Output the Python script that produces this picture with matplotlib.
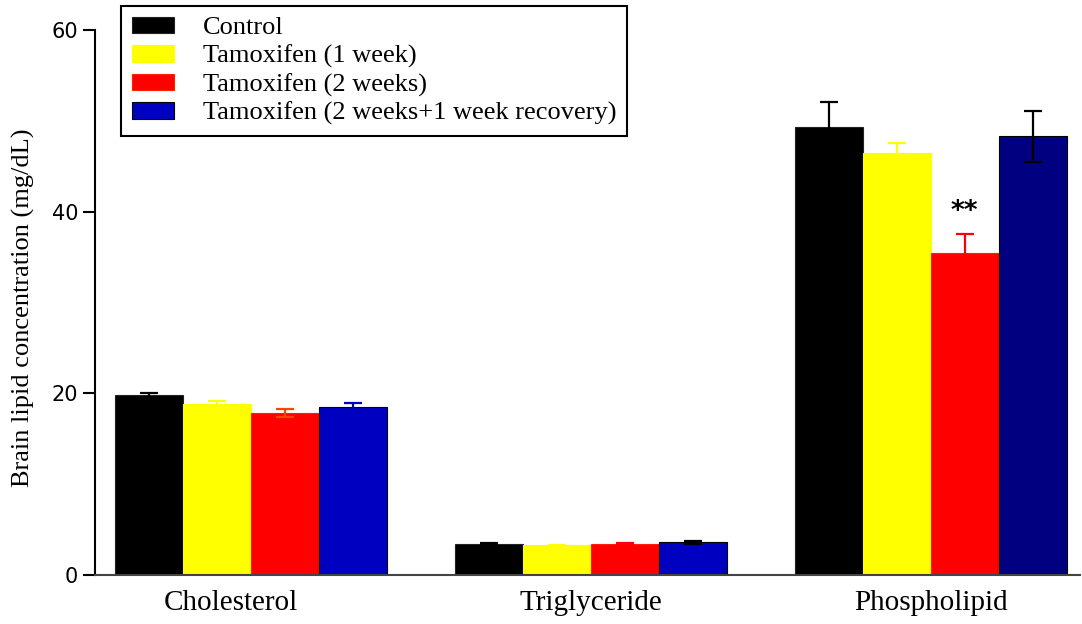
import numpy as np
import matplotlib
matplotlib.use('Agg')
import matplotlib.pyplot as plt
from matplotlib.transforms import ScaledTranslation

plt.rcParams['font.family'] = ['Liberation Serif', 'DejaVu Serif']

# data (mg/dL)
categories = ['Cholesterol', 'Triglyceride', 'Phospholipid']
series = ['Control', 'Tamoxifen (1 week)', 'Tamoxifen (2 weeks)',
          'Tamoxifen (2 weeks+1 week recovery)']
control = [19.8, 3.45, 49.3]
tam_1w = [18.8, 3.3, 46.5]
tam_2w = [17.8, 3.45, 35.5]
tam_rec = [18.5, 3.6, 48.3]
control_err = [0.25, 0.1, 2.75]
tam_1w_err = [0.4, 0.05, 1.1]
tam_2w_err = [0.45, 0.1, 2.05]
tam_rec_err = [0.4, 0.2, 2.8]
star_labels = ['', '', '**']  # over the 2-week bars

values = [control, tam_1w, tam_2w, tam_rec]
errors = [control_err, tam_1w_err, tam_2w_err, tam_rec_err]

# colours per series and per category
face = [['#000000'] * 3,
        ['#FFFF00'] * 3,
        ['#FF0000'] * 3,
        ['#0000C0', '#0000C0', '#000080']]
edge = [['#222222'] * 3,
        ['#FFFF00'] * 3,
        ['#FF2000'] * 3,
        ['#000000'] * 3]
errc = [['#000000'] * 3,
        ['#FFFF00'] * 3,
        ['#FF4500', '#FF0000', '#FF0000'],
        ['#0000C0', '#000000', '#000000']]

fig = plt.figure(figsize=(10.82, 6.24), dpi=100)
ax = fig.add_axes([0.0878, 0.0785, 0.910, 0.873])

x = np.arange(len(categories))
w = 0.2
for k in range(4):
    pos = x + (k - 1.5) * w
    ax.bar(pos, values[k], w, color=face[k], edgecolor=edge[k],
           linewidth=0.8, label=series[k], zorder=2)
    for j in range(3):
        ax.errorbar(pos[j], values[k][j], yerr=errors[k][j], fmt='none',
                    ecolor=errc[k][j], elinewidth=1.6, capsize=6.5,
                    capthick=1.6, zorder=3)

for j, s in enumerate(star_labels):
    if s:
        ax.text(x[j] + 0.5 * w, tam_2w[j] + tam_2w_err[j] + 1.0, s,
                ha='center', va='bottom', fontsize=19, fontweight='bold',
                family=['DejaVu Sans'])

ax.set_xlim(-0.459, 2.438)
ax.set_ylim(0, 60)
ax.set_yticks([0, 20, 40, 60])
ax.set_xticks(x)
ax.set_xticklabels(categories, fontsize=21)
ax.tick_params(axis='x', length=0, pad=11)
ax.tick_params(axis='y', length=9, width=1.5, pad=3, labelsize=15)
for t in ax.get_yticklabels():
    t.set_fontfamily(['DejaVu Sans'])
# the first category label sits a bit left of its group
lab0 = ax.get_xticklabels()[0]
lab0.set_transform(lab0.get_transform() + ScaledTranslation(-0.2, 0, fig.dpi_scale_trans))

ax.spines['top'].set_visible(False)
ax.spines['right'].set_visible(False)
ax.spines['left'].set_linewidth(1.5)
ax.spines['bottom'].set_linewidth(1.5)
ax.spines['bottom'].set_color('#444444')

ax.set_ylabel('Brain lipid concentration (mg/dL)', fontsize=19)
ax.yaxis.set_label_coords(-0.061, 0.49)

leg = ax.legend(loc='upper left', bbox_to_anchor=(121 / 1082, 1 - 6 / 624),
                bbox_transform=fig.transFigure, borderaxespad=0,
                fontsize=19, fancybox=False, framealpha=1,
                edgecolor='black', labelspacing=0.2, handlelength=1.6,
                handleheight=0.6, handletextpad=1.1, borderpad=0.4)
leg.get_frame().set_linewidth(1.5)

fig.savefig('out.png', dpi=100)
